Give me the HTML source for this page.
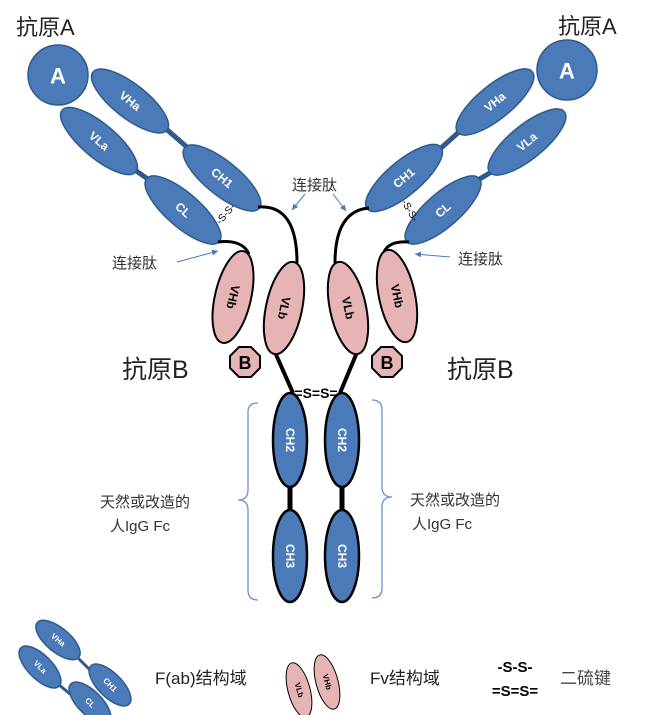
<!DOCTYPE html>
<html><head><meta charset="utf-8"><style>
html,body{margin:0;padding:0;background:#fff;width:659px;height:715px;overflow:hidden}
svg{display:block}
text{font-family:"Liberation Sans","Noto Sans CJK SC",sans-serif}
.cn{font-size:15px;fill:#333}
.lg{font-size:17px;fill:#222}
.w{fill:#fff;font-size:12px;font-weight:bold;text-anchor:middle;dominant-baseline:central}
.b{fill:#4a7ab8;stroke:#2e5a8e;stroke-width:1.5}
.bk{fill:#4a7ab8;stroke:#000;stroke-width:2.5}
.p{fill:#e6b4b4;stroke:#000;stroke-width:2}
.pt{fill:#000;font-size:12px;font-weight:bold;text-anchor:middle;dominant-baseline:central}
</style></head><body>
<svg width="659" height="715" viewBox="0 0 659 715" xmlns="http://www.w3.org/2000/svg">
<defs><marker id="ar" markerWidth="8" markerHeight="8" refX="6" refY="3" orient="auto"><path d="M0,0 L6,3 L0,6 z" fill="#4a7ab8"/></marker></defs>

<!-- LEFT ARM -->
<text x="16" y="35" font-size="22" fill="#222">抗原A</text>
<circle cx="58" cy="75" r="30" class="b"/>
<text x="58" y="76" class="w" style="font-size:22px">A</text>
<line x1="165" y1="128" x2="188" y2="148" stroke="#2e5a8e" stroke-width="5"/>
<line x1="135" y1="170" x2="152" y2="182" stroke="#2e5a8e" stroke-width="5"/>
<g transform="translate(130,101) rotate(38)"><ellipse rx="47" ry="17" class="b"/><text class="w">VHa</text></g>
<g transform="translate(99,141) rotate(40)"><ellipse rx="48" ry="17" class="b"/><text class="w">VLa</text></g>
<g transform="translate(222,178) rotate(39)"><ellipse rx="48" ry="17" class="b"/><text class="w">CH1</text></g>
<g transform="translate(183,210) rotate(41)"><ellipse rx="48" ry="17" class="b"/><text class="w">CL</text></g>
<text transform="translate(228,216) rotate(-50)" font-size="10" text-anchor="middle" fill="#000">-S-S-</text>
<path d="M258,207 C285,205 297,225 297,263" fill="none" stroke="#000" stroke-width="3"/>
<path d="M218,242 C235,240 245,245 249,254" fill="none" stroke="#000" stroke-width="3"/>
<line x1="274" y1="350" x2="293" y2="393" stroke="#000" stroke-width="4"/>
<g transform="translate(233,297) rotate(13)"><ellipse rx="18" ry="47" class="p"/><text class="pt" transform="rotate(90)">VHb</text></g>
<g transform="translate(284,308) rotate(12)"><ellipse rx="18" ry="47" class="p"/><text class="pt" transform="rotate(90)">VLb</text></g>
<polygon points="239,347 251,347 260,356 260,368 251,377 239,377 230,368 230,356" fill="#e6b4b4" stroke="#000" stroke-width="2"/>
<text x="245" y="363" text-anchor="middle" dominant-baseline="central" font-size="18" font-weight="bold">B</text>
<text x="122" y="378" font-size="25" fill="#222">抗原B</text>
<text x="292" y="190" class="cn">连接肽</text>
<line x1="305" y1="194" x2="292" y2="210" stroke="#4a7ab8" stroke-width="1" marker-end="url(#ar)"/>
<text x="112" y="268" class="cn">连接肽</text>
<line x1="177" y1="262" x2="218" y2="251" stroke="#4a7ab8" stroke-width="1" marker-end="url(#ar)"/>

<!-- RIGHT ARM -->
<text x="558" y="34" font-size="22" fill="#222">抗原A</text>
<circle cx="567" cy="70" r="30" class="b"/>
<text x="567" y="71" class="w" style="font-size:22px">A</text>
<line x1="440" y1="149" x2="460" y2="131" stroke="#2e5a8e" stroke-width="5"/>
<line x1="478" y1="180" x2="493" y2="171" stroke="#2e5a8e" stroke-width="5"/>
<g transform="translate(495,102) rotate(-39)"><ellipse rx="48" ry="17" class="b"/><text class="w">VHa</text></g>
<g transform="translate(527,142) rotate(-39)"><ellipse rx="48" ry="17" class="b"/><text class="w">VLa</text></g>
<g transform="translate(404,178) rotate(-40)"><ellipse rx="48" ry="17" class="b"/><text class="w">CH1</text></g>
<g transform="translate(443,210) rotate(-41)"><ellipse rx="48" ry="17" class="b"/><text class="w">CL</text></g>
<text transform="translate(407,212) rotate(60)" font-size="10" text-anchor="middle" fill="#000">-S-S-</text>
<path d="M369,208 C345,210 335,230 335,263" fill="none" stroke="#000" stroke-width="3"/>
<path d="M409,242 C395,241 387,245 384,252" fill="none" stroke="#000" stroke-width="3"/>
<line x1="358" y1="350" x2="340" y2="393" stroke="#000" stroke-width="4"/>
<g transform="translate(348,308) rotate(-12)"><ellipse rx="18" ry="47" class="p"/><text class="pt" transform="rotate(90)">VLb</text></g>
<g transform="translate(397,296) rotate(-12)"><ellipse rx="18" ry="47" class="p"/><text class="pt" transform="rotate(90)">VHb</text></g>
<polygon points="381,347 393,347 402,356 402,368 393,377 381,377 372,368 372,356" fill="#e6b4b4" stroke="#000" stroke-width="2"/>
<text x="387" y="363" text-anchor="middle" dominant-baseline="central" font-size="18" font-weight="bold">B</text>
<text x="447" y="378" font-size="25" fill="#222">抗原B</text>
<line x1="333" y1="194" x2="346" y2="211" stroke="#4a7ab8" stroke-width="1" marker-end="url(#ar)"/>
<text x="458" y="264" class="cn">连接肽</text>
<line x1="450" y1="257" x2="415" y2="254" stroke="#4a7ab8" stroke-width="1" marker-end="url(#ar)"/>

<!-- FC -->
<text x="316" y="398" text-anchor="middle" font-size="14" font-weight="bold">=S=S=</text>
<line x1="290" y1="485" x2="290" y2="512" stroke="#000" stroke-width="5"/>
<line x1="342" y1="485" x2="342" y2="512" stroke="#000" stroke-width="5"/>
<g transform="translate(290,440)"><ellipse rx="17" ry="47" class="bk"/><text class="w" transform="rotate(90)">CH2</text></g>
<g transform="translate(342,440)"><ellipse rx="17" ry="47" class="bk"/><text class="w" transform="rotate(90)">CH2</text></g>
<g transform="translate(290,556)"><ellipse rx="17" ry="46" class="bk"/><text class="w" transform="rotate(90)">CH3</text></g>
<g transform="translate(342,556)"><ellipse rx="17" ry="46" class="bk"/><text class="w" transform="rotate(90)">CH3</text></g>
<path d="M258,403 Q248,403 248,412 L248,490 Q248,500 238,500 Q248,500 248,510 L248,590 Q248,600 258,600" fill="none" stroke="#6a93c8" stroke-width="1.3"/>
<path d="M372,400 Q382,400 382,410 L382,487 Q382,497 392,497 Q382,497 382,507 L382,588 Q382,598 372,598" fill="none" stroke="#6a93c8" stroke-width="1.3"/>
<text x="100" y="507" class="cn">天然或改造的</text>
<text x="110" y="531" class="cn">人IgG Fc</text>
<text x="410" y="505" class="cn">天然或改造的</text>
<text x="412" y="529" class="cn">人IgG Fc</text>

<!-- LEGEND -->
<line x1="76" y1="656" x2="92" y2="672" stroke="#2e5a8e" stroke-width="3"/>
<line x1="58" y1="684" x2="70" y2="694" stroke="#2e5a8e" stroke-width="3"/>
<g transform="translate(58,640) rotate(40)"><ellipse rx="27" ry="12" class="b"/><text class="w" style="font-size:8px">VHa</text></g>
<g transform="translate(40,667) rotate(45)"><ellipse rx="27" ry="12" class="b"/><text class="w" style="font-size:8px">VLa</text></g>
<g transform="translate(110,685) rotate(45)"><ellipse rx="27" ry="12" class="b"/><text class="w" style="font-size:8px">CH1</text></g>
<g transform="translate(90,703) rotate(45)"><ellipse rx="27" ry="12" class="b"/><text class="w" style="font-size:8px">CL</text></g>
<text x="155" y="684" class="lg">F(ab)结构域</text>
<g transform="translate(299,690) rotate(-15)"><ellipse rx="11" ry="28" fill="#e6b4b4" stroke="#000" stroke-width="1"/><text class="pt" style="font-size:8px" transform="rotate(90)">VLb</text></g>
<g transform="translate(327,682) rotate(-15)"><ellipse rx="11" ry="28" fill="#e6b4b4" stroke="#000" stroke-width="1"/><text class="pt" style="font-size:8px" transform="rotate(90)">VHb</text></g>
<text x="370" y="684" class="lg">Fv结构域</text>
<text x="515" y="672" text-anchor="middle" font-size="15" font-weight="bold">-S-S-</text>
<text x="515" y="696" text-anchor="middle" font-size="15" font-weight="bold">=S=S=</text>
<text x="560" y="684" class="lg" style="fill:#444">二硫键</text>
</svg>
</body></html>
